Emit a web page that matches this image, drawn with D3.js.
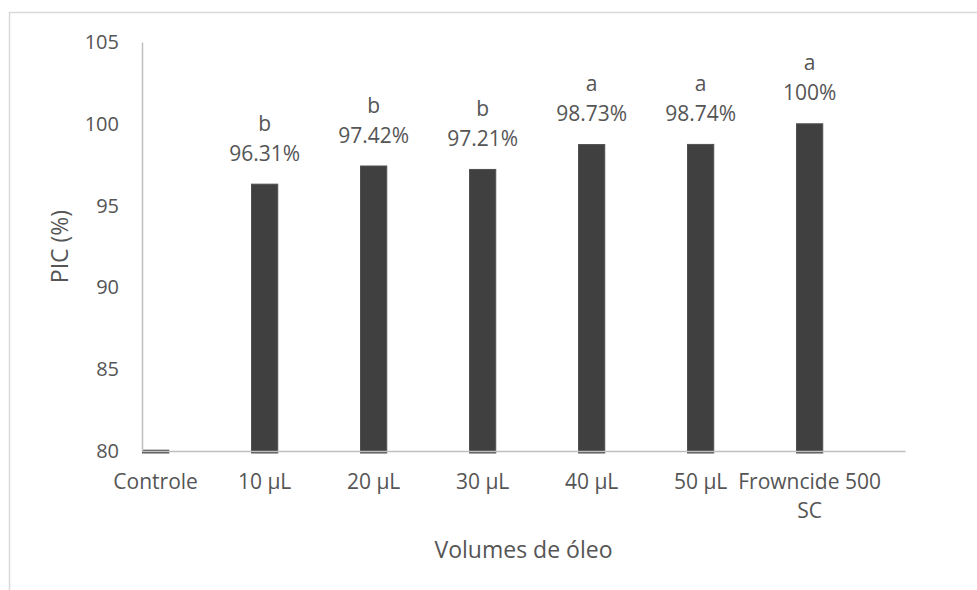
<!DOCTYPE html>
<html>
<head>
<meta charset="utf-8">
<script src="https://cdn.jsdelivr.net/npm/d3@7"></script>
<style>
  html, body { margin: 0; padding: 0; background: #fff; }
  svg { display: block; }
  text { font-family: "Open Sans", "Noto Sans", sans-serif; fill: #555555; }
</style>
</head>
<body>
<svg id="chart" width="977" height="590"></svg>
<script>
// ---- data ----
const categories = ["Controle", "10 µL", "20 µL", "30 µL", "40 µL", "50 µL", "Frowncide 500 SC"];
const tickLabels = [["Controle"], ["10 µL"], ["20 µL"], ["30 µL"], ["40 µL"], ["50 µL"], ["Frowncide 500", "SC"]];
const values = [80.05, 96.31, 97.42, 97.21, 98.73, 98.74, 100];
const groups = ["", "b", "b", "b", "a", "a", "a"];
const yTicks = [80, 85, 90, 95, 100, 105];
const yTitle = "PIC (%)";
const xTitle = "Volumes de óleo";

// ---- layout ----
const plot = { left: 142, right: 905, top: 42, bottom: 451 };
const svg = d3.select("#chart");
const txt = "#555555";

// outer frame
svg.append("rect")
  .attr("x", 9.5).attr("y", 12.5)
  .attr("width", 1200).attr("height", 1200)
  .attr("fill", "none").attr("stroke", "#d9d9d9").attr("stroke-width", 1.5);

const x = d3.scaleBand().domain(categories).range([plot.left, plot.right]).padding(0);
const y = d3.scaleLinear().domain([80, 105]).range([plot.bottom, plot.top]);
const barW = x.bandwidth() / 4;
const shift = x.bandwidth() / 2 - barW / 2;

const rows = categories.map((c, i) => ({ c, v: values[i], g: groups[i], t: tickLabels[i] }));

// bars
svg.append("g").selectAll("rect").data(rows).join("rect")
  .attr("x", d => x(d.c) + 0.5)
  .attr("y", d => y(d.v))
  .attr("width", barW - 1)
  .attr("height", d => y(80) - y(d.v) + 2)
  .attr("fill", "#404040")
  .attr("stroke", "#505050")
  .attr("stroke-width", 1);

// y axis
const yAxis = svg.append("g")
  .attr("transform", `translate(${plot.left},0)`)
  .call(d3.axisLeft(y).tickValues(yTicks).tickSize(0).tickSizeOuter(0).tickPadding(23));
yAxis.select(".domain").attr("stroke", "#bfbfbf").attr("stroke-width", 1.5);
yAxis.selectAll(".tick text")
  .attr("font-size", 20).attr("fill", txt)
  .style("font-family", "'Open Sans', sans-serif");

// x axis
const xAxis = svg.append("g")
  .attr("transform", `translate(0,${plot.bottom})`)
  .call(d3.axisBottom(x).tickSize(0).tickSizeOuter(0));
xAxis.select(".domain").attr("stroke", "#bfbfbf").attr("stroke-width", 1.5);
xAxis.selectAll(".tick text").each(function(d, i) {
  const t = d3.select(this);
  t.text(null).attr("y", 38).attr("dy", null).attr("x", -shift)
    .attr("font-size", 21).attr("fill", txt)
    .style("font-family", "'Open Sans', sans-serif");
  tickLabels[i].forEach((line, k) => {
    t.append("tspan").attr("x", -shift).attr("y", 38 + k * 29).text(line);
  });
});

// data labels
const lab = svg.append("g").selectAll("text").data(rows.filter(d => d.g !== "")).join("text")
  .attr("text-anchor", "middle")
  .attr("font-size", 21);
lab.append("tspan")
  .attr("x", d => x(d.c) + barW / 2)
  .attr("y", d => y(d.v) - 23.5 - 30)
  .text(d => d.g);
lab.append("tspan")
  .attr("x", d => x(d.c) + barW / 2)
  .attr("y", d => y(d.v) - 23.5)
  .text(d => (Number.isInteger(d.v) ? d.v : d.v.toFixed(2)) + "%");

// axis titles
svg.append("text")
  .attr("transform", `translate(68,${(plot.top + plot.bottom) / 2}) rotate(-90)`)
  .attr("text-anchor", "middle").attr("font-size", 23)
  .text(yTitle);
svg.append("text")
  .attr("x", (plot.left + plot.right) / 2).attr("y", 558)
  .attr("text-anchor", "middle").attr("font-size", 23)
  .text(xTitle);
</script>
</body>
</html>
